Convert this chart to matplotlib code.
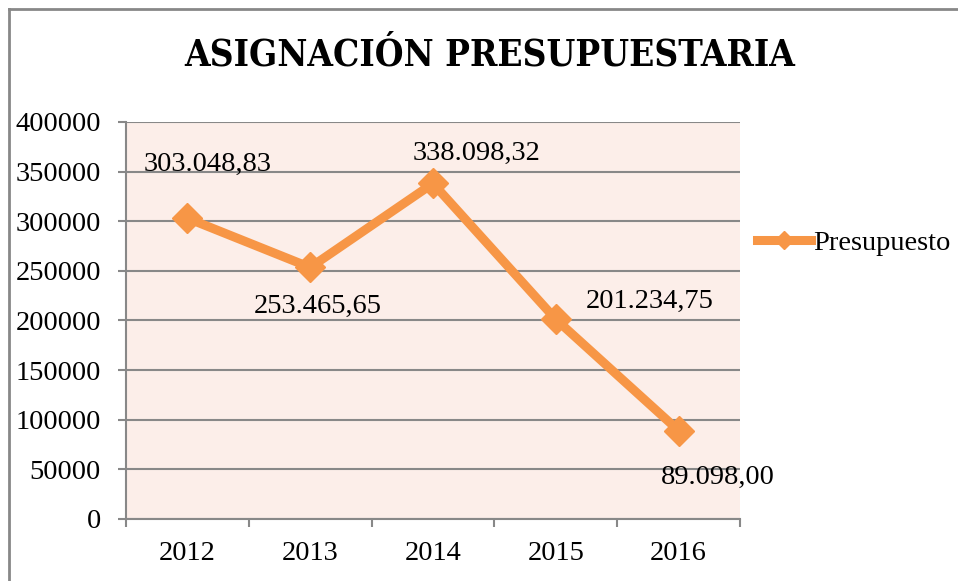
import matplotlib
matplotlib.use("Agg")
import matplotlib.pyplot as plt
from matplotlib.lines import Line2D

# data
years = ["2012", "2013", "2014", "2015", "2016"]
presupuesto = [303048.83, 253465.65, 338098.32, 201234.75, 89098.00]
etiquetas = ["303.048,83", "253.465,65", "338.098,32", "201.234,75", "89.098,00"]
# label offsets from each point (pixels)
offsets = [(20, 54), (8, -39), (44, 30), (94, 18), (39, -47)]

plt.rcParams['font.family'] = ['Liberation Serif', 'DejaVu Serif']

orange = '#F79646'
gray = '#888888'

fig = plt.figure(figsize=(9.58, 5.81), dpi=100)
ax = fig.add_axes([126/958, 62/581, 614/958, 397/581])
ax.set_facecolor('#FCEEE9')

x = list(range(len(years)))
ax.plot(x, presupuesto, color=orange, lw=6.5, marker='D', ms=15,
        solid_capstyle='butt', label='Presupuesto', zorder=3)

for xi, yi, txt, (dx, dy) in zip(x, presupuesto, etiquetas, offsets):
    ax.annotate(txt, (xi, yi), xytext=(dx * 0.72, dy * 0.72), textcoords='offset points',
                ha='center', va='center', fontsize=20.5, zorder=4)

ax.set_xlim(-0.5, len(years) - 0.5)
ax.set_ylim(0, 400000)
ax.set_yticks(range(0, 400001, 50000))
ax.set_yticklabels([str(v) for v in range(0, 400001, 50000)])
ax.set_xticks(x)
ax.set_xticklabels(years)
ax.set_xticks([i - 0.5 for i in range(len(years) + 1)], minor=True)
ax.tick_params(axis='x', which='major', length=0, pad=16, labelsize=20.5)
ax.tick_params(axis='x', which='minor', length=6, width=1.5, color=gray, direction='out')
ax.tick_params(axis='y', length=6, width=1.5, color=gray, pad=12, labelsize=20.5)

ax.grid(axis='y', color=gray, lw=1.5)
ax.set_axisbelow(True)
for s in ['top', 'right']:
    ax.spines[s].set_visible(False)
for s in ['left', 'bottom']:
    ax.spines[s].set_color(gray)
    ax.spines[s].set_linewidth(1.5)

leg = fig.legend(handles=[Line2D([], [], color=orange, lw=6.5, marker='D', ms=9)],
                 labels=['Presupuesto'], loc='center left',
                 bbox_to_anchor=(743/958, 1 - 243/581), frameon=False,
                 fontsize=20.5, handlelength=1.9, handletextpad=0.05, borderpad=0)

fig.text(490/958, 1 - 55/581, 'ASIGNACIÓN PRESUPUESTARIA', ha='center', va='center',
         fontsize=26.5, fontweight='bold', family=['DejaVu Serif'], fontstretch='condensed')

# outer chart border (right and bottom edges are outside the picture)
fig.add_artist(Line2D([9/958, 9/958], [0, 1 - 9/581], color=gray, lw=2))
fig.add_artist(Line2D([9/958, 1], [1 - 9/581, 1 - 9/581], color=gray, lw=2))

fig.savefig('out.png', dpi=100)
